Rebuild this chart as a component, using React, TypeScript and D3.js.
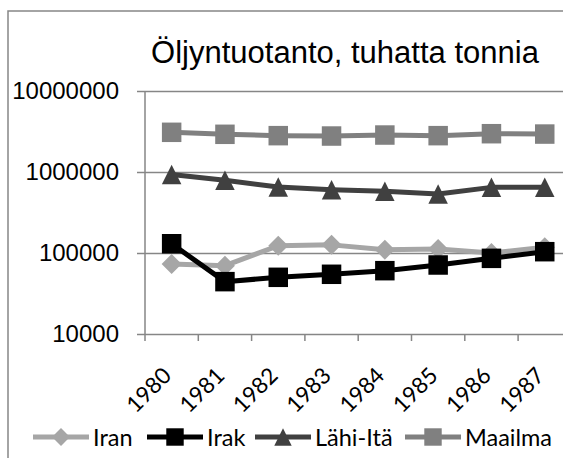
import React, { useEffect, useRef } from 'react';
import * as d3 from 'd3';

// data, thousand tonnes
const years = ['1980', '1981', '1982', '1983', '1984', '1985', '1986', '1987'];
const iran = [73000, 69800, 123000, 126000, 110000, 112000, 100000, 118000];
const irak = [130000, 44300, 50100, 54600, 60500, 71100, 85900, 103800];
const lahiIta = [930000, 789000, 653000, 605000, 579000, 535000, 646000, 646000];
const maailma = [3090000, 2920000, 2810000, 2780000, 2860000, 2810000, 2970000, 2940000];
const yTicks = [10000, 100000, 1000000, 10000000];
const seriesNames = ['Iran', 'Irak', 'Lähi-Itä', 'Maailma'];

const W = 563;
const H = 458;

// marker shapes
const square = {
  draw(ctx: any, size: number) {
    const r = Math.sqrt(size) / 2;
    ctx.moveTo(-r, -r);
    ctx.lineTo(r, -r);
    ctx.lineTo(r, r);
    ctx.lineTo(-r, r);
    ctx.closePath();
  },
};
const triangle = {
  draw(ctx: any, size: number) {
    const r = Math.sqrt(size) / 2;
    ctx.moveTo(0, -r);
    ctx.lineTo(r, r);
    ctx.lineTo(-r, r);
    ctx.closePath();
  },
};
const diamond = {
  draw(ctx: any, size: number) {
    const r = Math.sqrt(size) / 2;
    ctx.moveTo(0, -r);
    ctx.lineTo(r, 0);
    ctx.lineTo(0, r);
    ctx.lineTo(-r, 0);
    ctx.closePath();
  },
};

const series = [
  { name: seriesNames[0], values: iran, color: '#a6a6a6', shape: diamond, size: 400 },
  { name: seriesNames[1], values: irak, color: '#000000', shape: square, size: 380 },
  { name: seriesNames[2], values: lahiIta, color: '#404040', shape: triangle, size: 380 },
  { name: seriesNames[3], values: maailma, color: '#808080', shape: square, size: 380 },
];

export default function App() {
  const ref = useRef<SVGSVGElement>(null);

  useEffect(() => {
    const svg = d3.select(ref.current);
    svg.selectAll('*').remove();

    const left = 145;
    const step = 53.3;
    const x = d3.scaleBand().domain(years).range([left, left + step * years.length]);
    const y = d3.scaleLog().domain([10000, 10000000]).range([334, 91]);
    const grid = '#868686';

    // chart border (cut off at right and bottom)
    svg.append('rect')
      .attr('x', 8).attr('y', 11)
      .attr('width', 700).attr('height', 500)
      .attr('fill', 'white')
      .attr('stroke', grid).attr('stroke-width', 1.5);

    svg.append('text')
      .attr('x', 345).attr('y', 63)
      .attr('text-anchor', 'middle')
      .style('font-family', '"Liberation Sans", Arial, sans-serif')
      .style('font-size', '31px')
      .text('Öljyntuotanto, tuhatta tonnia');

    // horizontal gridlines + y labels
    const yAxis = d3.axisLeft(y)
      .tickValues(yTicks)
      .tickFormat(d3.format('d'))
      .tickSize(-(W - left + 20))
      .tickPadding(18);
    const gy = svg.append('g').attr('transform', `translate(${left},0)`).call(yAxis);
    gy.select('.domain').remove();
    gy.selectAll('.tick line')
      .attr('x1', -8)
      .attr('stroke', grid).attr('stroke-width', 1.5);
    gy.selectAll('.tick text')
      .attr('x', -26)
      .attr('fill', '#000')
      .style('font-family', '"Liberation Sans", Arial, sans-serif')
      .style('font-size', '24px');

    // vertical axis line
    svg.append('line')
      .attr('x1', left).attr('x2', left)
      .attr('y1', y(10000000)).attr('y2', y(10000))
      .attr('stroke', grid).attr('stroke-width', 1.5);

    // category ticks
    const bounds = years.map((d) => x(d)!).concat([x.range()[1]]);
    svg.append('g').selectAll('line')
      .data(bounds)
      .enter()
      .append('line')
      .attr('x1', (d) => d).attr('x2', (d) => d)
      .attr('y1', y(10000)).attr('y2', y(10000) + 7)
      .attr('stroke', grid).attr('stroke-width', 1.5);

    // rotated year labels
    svg.append('g').selectAll('text')
      .data(years)
      .enter()
      .append('text')
      .attr('text-anchor', 'end')
      .attr('transform', (d) => `translate(${x(d)! + x.bandwidth() / 2 + 1},377) rotate(-45)`)
      .style('font-family', 'Lato, sans-serif')
      .style('font-size', '22.5px')
      .text((d) => d);

    const line = d3.line<number>()
      .x((_, i) => x(years[i])! + x.bandwidth() / 2)
      .y((v) => y(v));

    series.forEach((s) => {
      const g = svg.append('g');
      g.append('path')
        .attr('d', line(s.values))
        .attr('fill', 'none')
        .attr('stroke', s.color)
        .attr('stroke-width', 5)
        .attr('stroke-linejoin', 'round');
      g.selectAll('path.m')
        .data(s.values)
        .enter()
        .append('path')
        .attr('class', 'm')
        .attr('d', d3.symbol().type(s.shape as any).size(s.size)())
        .attr('transform', (v, i) => `translate(${x(years[i])! + x.bandwidth() / 2},${y(v)})`)
        .attr('fill', s.color);
    });

    // legend
    const legendX = [33, 147, 255, 405];
    const ly = 437;
    series.forEach((s, i) => {
      const g = svg.append('g').attr('transform', `translate(${legendX[i]},${ly})`);
      g.append('line')
        .attr('x1', 0).attr('x2', 56)
        .attr('stroke', s.color).attr('stroke-width', 5);
      g.append('path')
        .attr('d', d3.symbol().type(s.shape as any).size(s.size * 0.8)())
        .attr('transform', 'translate(28,0)')
        .attr('fill', s.color);
      g.append('text')
        .attr('x', 60).attr('y', 8.5)
        .style('font-family', 'Lato, sans-serif')
        .style('font-size', '23.5px')
        .text(s.name);
    });
  }, []);

  return (
    <svg
      ref={ref}
      width={W}
      height={H}
      style={{ position: 'absolute', left: 0, top: 0, background: 'white' }}
    />
  );
}
